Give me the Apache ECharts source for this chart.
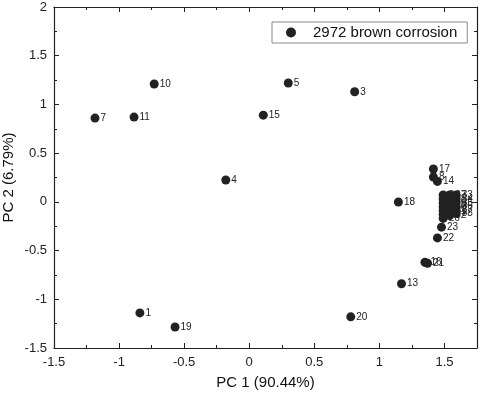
<!DOCTYPE html>
<html>
<head>
<meta charset="utf-8">
<script src="https://cdn.jsdelivr.net/npm/echarts@6/dist/echarts.min.js"></script>
<style>
  html, body { margin: 0; padding: 0; background: #fff; }
  #chart { width: 479px; height: 399px; }
</style>
</head>
<body>
<div id="chart"></div>
<script>
// 样本编号与主成分得分
var sampleIds = ['1', '3', '4', '5', '7', '10', '11', '13', '15', '17', '8', '14', '18', '19', '20', '16', '21', '22', '23',
  '2', '6', '9', '12', '24', '25', '26', '27', '28', '29', '30', '31', '32', '33', '34', '35', '36', '37', '38']
var pc1 = [-0.84, 0.81, -0.18, 0.30, -1.185, -0.73, -0.885, 1.17, 0.108, 1.415, 1.415, 1.446, 1.146, -0.57, 0.78, 1.35, 1.37, 1.446, 1.477,
  1.49, 1.49, 1.49, 1.49, 1.49, 1.49, 1.49, 1.54, 1.54, 1.54, 1.54, 1.54, 1.54, 1.59, 1.59, 1.59, 1.59, 1.59, 1.59]
var pc2 = [-1.14, 1.13, 0.224, 1.22, 0.86, 1.21, 0.87, -0.84, 0.89, 0.337, 0.255, 0.21, -0.002, -1.285, -1.18, -0.62, -0.63, -0.37, -0.26,
  0.07, 0.03, -0.01, -0.05, -0.09, -0.13, -0.17, 0.07, 0.03, -0.02, -0.06, -0.10, -0.14, 0.07, 0.03, -0.01, -0.05, -0.09, -0.12]
var xTicks = [-1.5, -1, -0.5, 0, 0.5, 1, 1.5]
var yTicks = [-1.5, -1, -0.5, 0, 0.5, 1, 1.5, 2]

var points = sampleIds.map(function (id, i) {
  return { name: id, value: [pc1[i], pc2[i]] }
})

var fontFamily = 'Liberation Sans, Arial, sans-serif'
var axisColor = '#222'

function tickLabel (list) {
  return function (v) {
    for (var i = 0; i < list.length; i++) {
      if (Math.abs(list[i] - v) < 1e-6) return String(list[i])
    }
    return ''
  }
}

function frameAxis (opt) {
  var base = {
    axisLine: { show: true, onZero: false, lineStyle: { color: axisColor, width: 1.2 } },
    axisTick: { show: true, inside: true, length: 5, lineStyle: { color: axisColor } },
    minorTick: { show: true, splitNumber: 2, length: 3, lineStyle: { color: axisColor } },
    splitLine: { show: false },
    minorSplitLine: { show: false }
  }
  return Object.assign(base, opt)
}

var chart = echarts.init(document.getElementById('chart'), null, { renderer: 'canvas' })
chart.setOption({
  animation: false,
  backgroundColor: '#fff',
  textStyle: { fontFamily: fontFamily },
  grid: { left: 54, right: 2, top: 7, bottom: 51, containLabel: false, outerBoundsMode: 'none' },
  legend: {
    data: ['2972 brown corrosion'],
    left: 272,
    top: 22,
    padding: [3, 10, 3, 14],
    itemWidth: 10,
    itemHeight: 10,
    itemGap: 0,
    borderColor: '#888',
    borderWidth: 1,
    backgroundColor: '#fff',
    icon: 'circle',
    textStyle: { fontSize: 15, color: '#111', fontFamily: fontFamily, padding: [0, 0, 0, 12] }
  },
  xAxis: [
    frameAxis({
      type: 'value', min: -1.5, max: 1.75, interval: 0.5, position: 'bottom',
      name: 'PC 1 (90.44%)', nameLocation: 'middle', nameGap: 27,
      nameTextStyle: { fontSize: 15, color: '#111', fontFamily: fontFamily },
      axisLabel: { show: true, color: axisColor, fontSize: 13, margin: 8, formatter: tickLabel(xTicks), showMaxLabel: false }
    }),
    frameAxis({
      type: 'value', min: -1.5, max: 1.75, interval: 0.5, position: 'top',
      axisLabel: { show: false }
    })
  ],
  yAxis: [
    frameAxis({
      type: 'value', min: -1.5, max: 2, interval: 0.5, position: 'left',
      name: 'PC 2 (6.79%)', nameLocation: 'middle', nameGap: 38, nameMoveOverlap: false,
      nameTextStyle: { fontSize: 15, color: '#111', fontFamily: fontFamily },
      axisLabel: { show: true, color: axisColor, fontSize: 13, margin: 7, formatter: tickLabel(yTicks) }
    }),
    frameAxis({
      type: 'value', min: -1.5, max: 2, interval: 0.5, position: 'right',
      axisLabel: { show: false }
    })
  ],
  series: [
    {
      name: '2972 brown corrosion',
      type: 'scatter',
      xAxisIndex: 0,
      yAxisIndex: 0,
      symbol: 'circle',
      symbolSize: 9,
      itemStyle: { color: '#222', opacity: 1 },
      label: {
        show: true,
        position: 'right',
        distance: 1,
        formatter: '{b}',
        fontSize: 10,
        color: '#222',
        fontFamily: fontFamily
      },
      data: points
    }
  ]
})
</script>
</body>
</html>
